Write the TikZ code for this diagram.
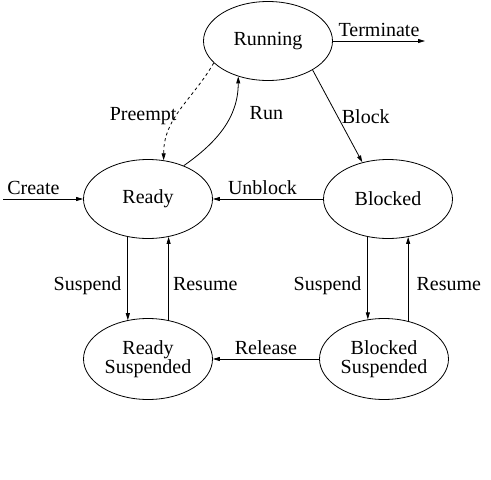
\documentclass[tikz,border=0pt]{standalone}
\usepackage{fontspec}
\setmainfont{Liberation Serif}
\usetikzlibrary{arrows.meta,positioning,shapes.geometric}

\begin{document}
\begin{tikzpicture}[x=1pt,y=1pt,on grid,auto,
	>={Triangle[length=7pt,width=4pt]},
	line width=0.8pt,
	font=\fontsize{20}{19}\selectfont,
	proc/.style={draw,ellipse,minimum width=129pt,minimum height=79pt,inner sep=0pt,align=center},
	lbl/.style={inner sep=4pt,text depth=0pt}]
	\useasboundingbox (0,0) rectangle (491,-480);
	\node[proc] (Run) at (268,-41) {Running};
	\node[proc] (Rdy) at (148,-199) {Ready};
	\node[proc, right=240pt of Rdy] (Blk) {Blocked};
	\node[proc, minimum height=81pt, below=160pt of Rdy] (RdyS) {Ready\\Suspended};
	\node[proc, minimum height=81pt, below=160pt of Blk, xshift=-4pt] (BlkS) {Blocked\\Suspended};
	\coordinate (term) at (425,-41);
	\coordinate (create) at (3,-199);
	\path (Run) edge[->] node[lbl,above] {Terminate} (term)
		(create) edge[->] node[lbl,above,pos=0.38] {Create} (Rdy)
		(Blk) edge[->] node[lbl,above,pos=0.55] {Unblock} (Rdy)
		(BlkS) edge[->] node[lbl,above] {Release} (RdyS)
		(Run.-33) edge[->] node[lbl,right,pos=0.5] {Block} (Blk.125)
		(Rdy.43) edge[->,out=35,in=-90] node[lbl,right,pos=0.66,xshift=14pt] {Run} (Run.-130)
		(Run.-158) edge[->,dash pattern=on 3pt off 3pt,out=-120,in=90] node[lbl,left,pos=0.55,inner sep=1pt] {Preempt} (Rdy.68);
	% suspend / resume pairs
	\draw[->] (Rdy.-118) -- (Rdy.-118 |- RdyS.118) node[lbl,pos=0.56,left,inner sep=6pt] {Suspend};
	\draw[->] (RdyS.62) -- (RdyS.62 |- Rdy.-62) node[lbl,pos=0.44,right] {Resume};
	\draw[->] (Blk.-118) -- (Blk.-118 |- BlkS.112) node[lbl,pos=0.56,left,inner sep=6pt] {Suspend};
	\draw[->] (BlkS.57 -| Blk.-62) -- (Blk.-62) node[lbl,pos=0.44,right,inner sep=8pt] {Resume};
\end{tikzpicture}
\end{document}
